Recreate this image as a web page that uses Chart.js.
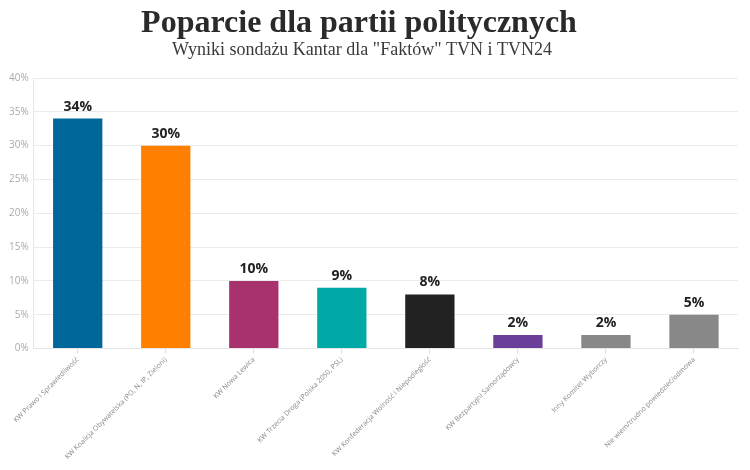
<!DOCTYPE html>
<html><head><meta charset="utf-8">
<script src="https://cdn.jsdelivr.net/npm/chart.js@4/dist/chart.umd.min.js"></script>
<style>html,body{margin:0;padding:0;background:#fff}#wrap{width:750px;height:470px}</style>
</head><body><div id="wrap"><canvas id="c"></canvas></div>
<script>
const categories = ["KW Prawo i Sprawiedliwość","KW Koalicja Obywatelska (PO, N, IP, Zieloni)","KW Nowa Lewica","KW Trzecia Droga (Polska 2050, PSL)","KW Konfederacja Wolność i Niepodległość","KW Bezpartyjni Samorządowcy","Inny Komitet Wyborczy","Nie wiem/trudno powiedzieć/odmowa"];
const values = [34, 30, 10, 9, 8, 2, 2, 5];
const barColors = ["#00679a","#ff7f00","#a8326e","#00a9a5","#222222","#6a3f9a","#888888","#888888"];
const yTicks = [0,5,10,15,20,25,30,35,40];
const titleText = "Poparcie dla partii politycznych";
const subtitleText = 'Wyniki sondażu Kantar dla "Faktów" TVN i TVN24';

const headerPlugin = {
  id:'header',
  afterDraw(chart){
    const ctx = chart.ctx;
    ctx.save();
    ctx.textAlign='center';
    ctx.textBaseline='alphabetic';
    ctx.fillStyle='#2a2a2a';
    ctx.font='bold 32px "Liberation Serif", serif';
    ctx.fillText(titleText, 359, 32);
    ctx.fillStyle='#3a3a3a';
    ctx.font='18px "Liberation Serif", serif';
    ctx.fillText(subtitleText, 362, 55);
    ctx.restore();
  }
};
const valueLabels = {
  id:'valueLabels',
  afterDatasetsDraw(chart){
    const ctx = chart.ctx;
    const meta = chart.getDatasetMeta(0);
    ctx.save();
    ctx.textAlign='center';
    ctx.textBaseline='bottom';
    ctx.fillStyle='#222';
    ctx.font='bold 14px "Open Sans", sans-serif';
    meta.data.forEach((bar,i)=>{
      ctx.fillText(values[i]+'%', bar.x, bar.y-5);
    });
    ctx.restore();
  }
};

new Chart(document.getElementById('c'), {
  type:'bar',
  data:{labels:categories, datasets:[{data:values, backgroundColor:barColors, borderColor:barColors, borderWidth:0, barPercentage:0.56, categoryPercentage:1}]},
  options:{
    responsive:true, maintainAspectRatio:false, animation:false,
    layout:{padding:{top:78, left:4, right:12, bottom:7}},
    plugins:{legend:{display:false}, title:{display:false}, tooltip:{enabled:false}},
    scales:{
      x:{
        grid:{offset:false, drawOnChartArea:false, drawTicks:true, tickLength:5, color:'#e0e0e0'},
        border:{color:'#e6e6e6'},
        ticks:{color:'#888', font:{family:'"Open Sans", sans-serif', size:7}, maxRotation:45, minRotation:45, autoSkip:false, padding:2}
      },
      y:{
        min:0, max:40,
        afterBuildTicks(axis){ axis.ticks = yTicks.map(v=>({value:v})); },
        grid:{color:'#ebebeb', drawTicks:false},
        border:{color:'#e6e6e6'},
        ticks:{color:'#aaa', font:{family:'"Open Sans", sans-serif', size:10}, padding:5, callback:v=>v+'%'}
      }
    }
  },
  plugins:[headerPlugin, valueLabels]
});
</script></body></html>
